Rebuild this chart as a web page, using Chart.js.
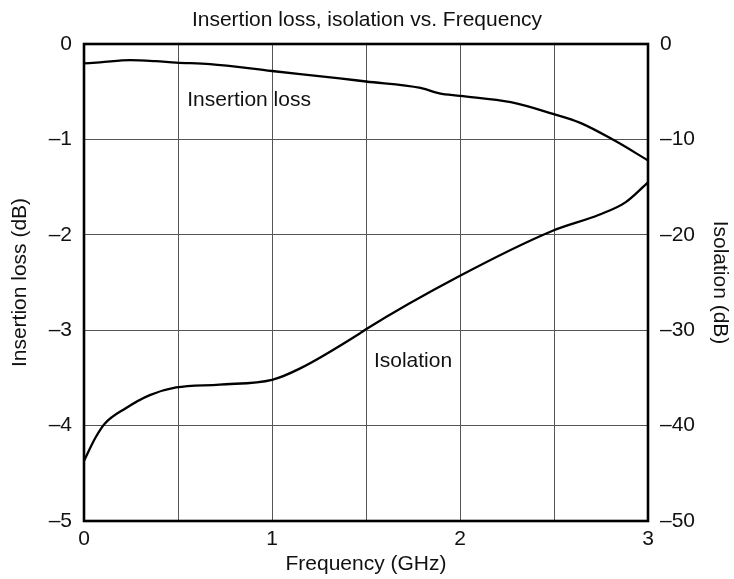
<!DOCTYPE html>
<html>
<head>
<meta charset="utf-8">
<script src="https://cdn.jsdelivr.net/npm/chart.js@4/dist/chart.umd.min.js"></script>
<style>
  html, body { margin: 0; padding: 0; background: #fff; }
  canvas { display: block; }
</style>
</head>
<body>
<canvas id="c" width="734" height="579"></canvas>
<script>
// ---- data ----
const insertionFreq = [0, 0.085, 0.245, 0.38, 0.49, 0.67, 1.0, 1.36, 1.5, 1.79, 1.89, 2.0, 2.27, 2.49, 2.64, 2.82, 3.0];
const insertionLoss = [-0.203, -0.193, -0.17, -0.18, -0.195, -0.21, -0.283, -0.36, -0.393, -0.46, -0.517, -0.543, -0.61, -0.73, -0.827, -1.01, -1.22];

const isolationFreq = [0, 0.06, 0.11, 0.22, 0.35, 0.49, 0.72, 1.0, 1.15, 1.47, 1.5, 1.99, 2.49, 2.74, 2.88, 3.0];
const isolation     = [-43.7, -41.3, -39.8, -38.2, -36.8, -36.0, -35.7, -35.2, -34.0, -30.3, -29.9, -24.4, -19.6, -17.9, -16.6, -14.5];

const xTickLabels = ['0', '1', '2', '3'];
const seriesLabels = ['Insertion loss', 'Isolation'];
// label anchor points in data units (frequency, left-axis value)
const labelAnchors = [[0.878, -0.587], [1.75, -3.32]];

const FONT = "'Liberation Sans', Arial, Helvetica, sans-serif";
const INK = '#111';
const FS = 21;
const fmt = v => (v < 0 ? '\u2013' + Math.abs(v) : String(v));

Chart.defaults.font.family = FONT;
Chart.defaults.color = INK;

const toPts = (xs, ys) => xs.map((x, i) => ({ x: x, y: ys[i] }));

const decor = {
  id: 'decor',
  afterDatasetsDraw(chart) {
    const { ctx, chartArea: a, scales } = chart;
    ctx.save();
    ctx.strokeStyle = '#000';
    ctx.lineWidth = 2.6;
    ctx.strokeRect(a.left, a.top, a.right - a.left, a.bottom - a.top);
    ctx.fillStyle = INK;
    ctx.font = FS + 'px ' + FONT;
    ctx.textAlign = 'center';
    ctx.textBaseline = 'middle';
    labelAnchors.forEach((p, i) => {
      ctx.fillText(seriesLabels[i], scales.x.getPixelForValue(p[0]), scales.y.getPixelForValue(p[1]));
    });
    ctx.restore();
  }
};

new Chart(document.getElementById('c'), {
  type: 'line',
  data: {
    datasets: [
      {
        label: seriesLabels[0],
        data: toPts(insertionFreq, insertionLoss),
        yAxisID: 'y',
        borderColor: '#000',
        borderWidth: 2.3,
        pointRadius: 0,
        cubicInterpolationMode: 'monotone',
        fill: false
      },
      {
        label: seriesLabels[1],
        data: toPts(isolationFreq, isolation),
        yAxisID: 'y2',
        borderColor: '#000',
        borderWidth: 2.3,
        pointRadius: 0,
        cubicInterpolationMode: 'monotone',
        fill: false
      }
    ]
  },
  options: {
    responsive: false,
    devicePixelRatio: 1,
    animation: false,
    layout: { padding: 0 },
    plugins: {
      legend: { display: false },
      tooltip: { enabled: false },
      title: {
        display: true,
        text: 'Insertion loss, isolation vs. Frequency',
        color: INK,
        font: { size: FS, weight: 'normal', family: FONT, lineHeight: 1.2 },
        padding: { top: 8, bottom: 10.8 }
      }
    },
    scales: {
      x: {
        type: 'linear',
        min: 0, max: 3,
        ticks: {
          stepSize: 0.5,
          padding: 6,
          color: INK,
          font: { size: FS },
          maxRotation: 0,
          autoSkip: false,
          callback: v => (Number.isInteger(v) ? xTickLabels[v] : '')
        },
        grid: { color: '#555', lineWidth: 1, drawTicks: false },
        border: { display: false },
        title: {
          display: true,
          text: 'Frequency (GHz)',
          color: INK,
          font: { size: FS },
          padding: { top: 0, bottom: 2.4 }
        },
        afterFit: s => { s.height = 58; }
      },
      y: {
        position: 'left',
        min: -5, max: 0,
        ticks: { stepSize: 1, padding: 12, color: INK, font: { size: FS }, callback: v => fmt(v) },
        grid: { color: '#555', lineWidth: 1, drawTicks: false },
        border: { display: false },
        title: {
          display: true,
          text: 'Insertion loss (dB)',
          color: INK,
          font: { size: FS },
          padding: { top: 7.4, bottom: 0 }
        },
        afterFit: s => { s.width = 84; }
      },
      y2: {
        position: 'right',
        min: -50, max: 0,
        ticks: { stepSize: 10, padding: 12, color: INK, font: { size: FS }, callback: v => fmt(v) },
        grid: { display: false, drawTicks: false },
        border: { display: false },
        title: {
          display: true,
          text: 'Isolation (dB)',
          color: INK,
          font: { size: FS },
          padding: { top: 1.4, bottom: 0 }
        },
        afterFit: s => { s.width = 86; }
      }
    }
  },
  plugins: [decor]
});
</script>
</body>
</html>
